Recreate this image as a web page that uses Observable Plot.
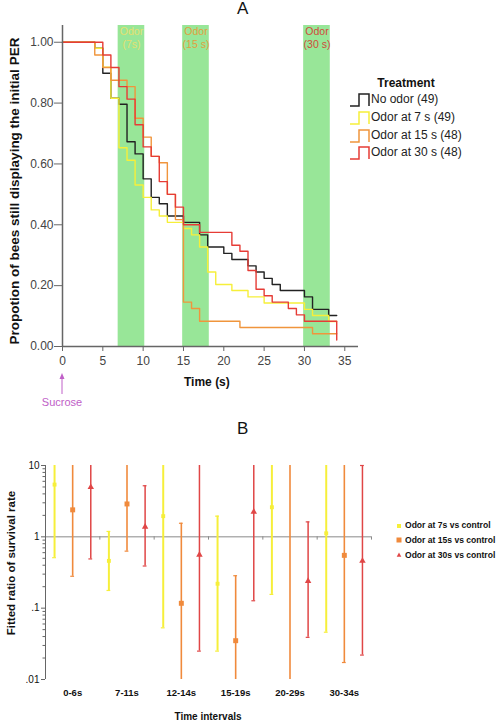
<!DOCTYPE html>
<html><head><meta charset="utf-8">
<script src="https://cdn.jsdelivr.net/npm/d3@7"></script>
<script src="https://cdn.jsdelivr.net/npm/@observablehq/plot@0.6"></script>
<style>
body{margin:0;background:#fff;font-family:"Liberation Sans",Arial,sans-serif;}
#wrap{position:relative;width:498px;height:722px;overflow:hidden;background:#fff;}
.abs{position:absolute;white-space:nowrap;line-height:1;}
#chartA{position:absolute;left:0;top:0;}
#chartB{position:absolute;left:0;top:410px;}
</style></head><body><div id="wrap"><div id="chartA"></div><div id="chartB"></div></div>
<script>
// ---------- Panel A data ----------
const treatments = ["No odor (49)", "Odor at 7 s (49)", "Odor at 15 s (48)", "Odor at 30 s (48)"];
const timesNoOdor = [0,4,5,6,7,8,9,10,11,12,13,15,17,18,20,21,23,24,25,26,27,30,31,33,34];
const survNoOdor  = [1,0.98,0.898,0.816,0.796,0.673,0.633,0.551,0.49,0.469,0.429,0.408,0.367,0.327,0.306,0.286,0.265,0.245,0.224,0.204,0.184,0.163,0.122,0.102,0.102];
const timesOdor7  = [0,4,5,6,7,8,9,10,11,12,13,15,16,17,18,19,21,23,25,30,31,33,34];
const survOdor7   = [1,0.98,0.918,0.816,0.653,0.612,0.531,0.49,0.449,0.429,0.408,0.388,0.367,0.327,0.245,0.204,0.184,0.163,0.143,0.122,0.102,0.082,0.082];
const timesOdor15 = [0,4,5,6,8,9,10,11,12,13,14,15,16,17,22,31,34];
const survOdor15  = [1,0.958,0.917,0.875,0.854,0.75,0.688,0.625,0.604,0.5,0.417,0.146,0.125,0.083,0.0625,0.042,0.042];
const timesOdor30 = [0,5,6,7,8,9,10,11,12,13,14,15,17,21,22,23,24,25,26,28,29,30,34,34];
const survOdor30  = [1,0.958,0.917,0.854,0.813,0.729,0.656,0.625,0.542,0.5,0.458,0.4,0.375,0.333,0.313,0.25,0.188,0.167,0.146,0.125,0.104,0.083,0.083,0.021];
const odorStart = [6.9, 14.9, 29.9];
const odorEnd   = [10.2, 18.2, 33.2];
const odorLabels = ["Odor\n(7s)", "Odor\n(15 s)", "Odor\n(30 s)"];
const xTicksA = [0,5,10,15,20,25,30,35];
const yTicksA = [0,0.2,0.4,0.6,0.8,1.0];

// ---------- Panel B data ----------
const intervals = ["0-6s","7-11s","12-14s","15-19s","20-29s","30-34s"];
const seriesB = ["Odor at 7s vs control","Odor at 15s vs control","Odor at 30s vs control"];
const est7  = [5.4, 0.46, 1.95, 0.22, 2.6, 1.12];
const lo7   = [0.51, 0.177, 0.053, 0.025, 0.156, 0.046];
const hi7   = [30, 1.19, 30, 1.95, 30, 30];
const est15 = [2.39, 2.89, 0.117, 0.035, null, 0.55];
const lo15  = [0.28, 0.63, 0.005, 0.005, 0.005, 0.0173];
const hi15  = [30, 30, 1.55, 0.285, 30, 30];
const est30 = [4.96, 1.38, 0.56, 2.24, 0.24, 0.46];
const lo30  = [0.49, 0.39, 0.025, 0.127, 0.039, 0.022];
const hi30  = [30, 5.2, 30, 30, 1.62, 10];
const yTicksB = [0.01, 0.1, 1, 10];
const yTickLabelsB = [".01", ".1", "1", "10"];
const minorTicksB = [0.02,0.03,0.04,0.05,0.06,0.07,0.08,0.09,0.2,0.3,0.4,0.5,0.6,0.7,0.8,0.9,2,3,4,5,6,7,8,9];

// ---------- styles ----------
const lineColors = ["#222222", "#f6ef3a", "#f0953c", "#e63c36"];
const odorLabelColors = ["#e4e070", "#e0a040", "#d04a3a"];
const seriesColorsB = ["#f6ef3a", "#f08a3c", "#e04646"];
const font = "'Liberation Sans', Arial, sans-serif";
const narrowFont = "'Liberation Sans Narrow', 'Liberation Sans', Arial, sans-serif";

// ---------- Panel A ----------
const timesA = [timesNoOdor, timesOdor7, timesOdor15, timesOdor30];
const survA = [survNoOdor, survOdor7, survOdor15, survOdor30];
const curves = treatments.flatMap((name, i) => timesA[i].map((t, j) => ({t, s: survA[i][j], name})));
const bands = odorStart.map((s, i) => ({s, e: odorEnd[i], label: odorLabels[i], i}));

const chartA = Plot.plot({
  width: 498, height: 410,
  marginLeft: 62, marginRight: 140, marginTop: 25, marginBottom: 64,
  style: {fontFamily: font, fontSize: "12px", color: "#444", background: "transparent"},
  x: {domain: [0, 36.7]},
  y: {domain: [0, 1.055]},
  color: {domain: treatments, range: lineColors},
  marks: [
    Plot.rect(bands, {x1: "s", x2: "e", fill: "#98e698"}),
    Plot.text(bands, {x: d => (d.s + d.e) / 2, frameAnchor: "top", text: "label", lineAnchor: "top", dy: 1, lineHeight: 1.18, fontSize: 10.5, fill: d => odorLabelColors[d.i]}),
    Plot.line(curves, {x: "t", y: "s", z: "name", stroke: "name", curve: "step-after", strokeWidth: 1.4}),
    Plot.ruleX([0], {stroke: "#666", strokeWidth: 1.5}),
    Plot.ruleY([0], {stroke: "#666", strokeWidth: 1.5}),
    Plot.axisX({ticks: xTicksA, tickSize: 5, tickPadding: 5, stroke: "#666", fill: "#444", label: null, fontSize: 12}),
    Plot.axisY({ticks: yTicksA, tickSize: 8, tickPadding: 1, tickFormat: d3.format(".2f"), stroke: "#666", fill: "#444", label: null, fontSize: 12})
  ]
});
document.getElementById("chartA").appendChild(chartA);

// Sucrose annotation at time 0
const sx = chartA.scale("x").apply(0);
const svgA = d3.select(chartA);
svgA.append("line").attr("x1", sx).attr("x2", sx).attr("y1", 394).attr("y2", 378).attr("stroke", "#c060c8").attr("stroke-width", 1);
svgA.append("path").attr("d", `M${sx},373L${sx-2.5},379L${sx+2.5},379Z`).attr("fill", "#c060c8");
svgA.append("text").attr("x", sx).attr("y", 402).attr("dy", "0.35em").attr("text-anchor", "middle")
  .attr("font-size", 11).attr("fill", "#c060c8").attr("font-family", font).text("Sucrose");

// ---------- Panel B ----------
const estB = [est7, est15, est30], loB = [lo7, lo15, lo30], hiB = [hi7, hi15, hi30];
const rowsB = seriesB.flatMap((series, si) => intervals.map((iv, gi) => ({
  series, si, gi, pos: gi + (si - 1) / 3, est: estB[si][gi], lo: loB[si][gi], hi: hiB[si][gi]
})));
const boundariesB = [0.5, 1.5, 2.5, 3.5, 4.5, 5.5];
const inRange = v => v >= 0.01 && v <= 10;
const symbolsB = ["square", "square", "triangle"];
const radiiB = [2.2, 2.8, 2.4];
const widthsB = [2, 1.6, 1.5];

const marksB = [
  Plot.ruleY([1], {stroke: "#8a8a8a", strokeWidth: 1}),
  Plot.ruleX(boundariesB, {x: d => d, y1: 1, y2: 0.9, stroke: "#8a8a8a"}),
  Plot.ruleX([-0.5], {stroke: "#666", strokeWidth: 1}),
  Plot.axisY({ticks: minorTicksB, tickFormat: () => "", tickSize: 2.5, stroke: "#666", label: null}),
  Plot.axisY({ticks: yTicksB, tickFormat: d => yTickLabelsB[yTicksB.indexOf(d)], tickSize: 4, tickPadding: 2, stroke: "#666", fill: "#111", fontSize: 10, label: null}),
  Plot.axisX({ticks: [0,1,2,3,4,5], tickFormat: d => intervals[d], tickSize: 0, tickPadding: 10, fill: "#111", fontSize: 9.5, fontWeight: "bold", fontFamily: narrowFont, label: null})
];
seriesB.forEach((s, si) => {
  const rows = rowsB.filter(d => d.si === si);
  marksB.push(Plot.ruleX(rows, {x: "pos", y1: "lo", y2: "hi", stroke: seriesColorsB[si], strokeWidth: widthsB[si], clip: true}));
  marksB.push(Plot.ruleY(rows.filter(d => inRange(d.hi)), {y: "hi", x1: d => d.pos - 0.035, x2: d => d.pos + 0.035, stroke: seriesColorsB[si], strokeWidth: 1.2}));
  marksB.push(Plot.ruleY(rows.filter(d => inRange(d.lo)), {y: "lo", x1: d => d.pos - 0.035, x2: d => d.pos + 0.035, stroke: seriesColorsB[si], strokeWidth: 1.2}));
  marksB.push(Plot.dot(rows.filter(d => d.est != null), {x: "pos", y: "est", symbol: symbolsB[si], r: radiiB[si], fill: seriesColorsB[si], clip: true}));
});

const chartB = Plot.plot({
  width: 498, height: 312,
  marginLeft: 45, marginRight: 127, marginTop: 55, marginBottom: 43,
  style: {fontFamily: font, fontSize: "10px", color: "#111", background: "transparent"},
  x: {domain: [-0.5, 5.5]},
  y: {type: "log", domain: [0.01, 10]},
  marks: marksB
});
document.getElementById("chartB").appendChild(chartB);

// ---------- titles, labels, legends ----------
const wrap = document.getElementById("wrap");
function addText(txt, css) {
  const d = document.createElement("div");
  d.className = "abs";
  d.textContent = txt;
  Object.assign(d.style, css);
  wrap.appendChild(d);
  return d;
}
addText("A", {left: "237px", top: "0px", fontSize: "17px", color: "#111"});
addText("B", {left: "237px", top: "420px", fontSize: "17px", color: "#111"});
addText("Time (s)", {left: "184px", top: "376px", fontSize: "12px", fontWeight: "bold", color: "#111"});
addText("Propotion of bees still displaying the initial PER", {left: "15px", top: "191px", fontSize: "13.5px", fontWeight: "bold", color: "#111", transform: "translate(-50%,-50%) rotate(-90deg)"});
addText("Fitted ratio of survival rate", {left: "12px", top: "563px", fontSize: "11.5px", fontWeight: "bold", color: "#111", transform: "translate(-50%,-50%) rotate(-90deg)"});
addText("Time intervals", {left: "208px", top: "717px", fontSize: "10px", fontWeight: "bold", fontFamily: narrowFont, color: "#111", transform: "translate(-50%,-50%)"});

// Legend A
addText("Treatment", {left: "406px", top: "83px", fontSize: "12px", fontWeight: "bold", color: "#111", transform: "translate(-50%,-50%)"});
const legendRowsY = [100, 117.7, 135.5, 153.2];
treatments.forEach((t, i) => {
  const y = legendRowsY[i];
  const svgNS = "http://www.w3.org/2000/svg";
  const icon = document.createElementNS(svgNS, "svg");
  icon.setAttribute("width", 22); icon.setAttribute("height", 16);
  icon.style.position = "absolute"; icon.style.left = "349px"; icon.style.top = (y - 8) + "px";
  const p = document.createElementNS(svgNS, "path");
  p.setAttribute("d", "M1,14H10V2H20V14");
  p.setAttribute("fill", "none"); p.setAttribute("stroke", lineColors[i]); p.setAttribute("stroke-width", "1.5");
  icon.appendChild(p); wrap.appendChild(icon);
  addText(t, {left: "371px", top: (y - 7) + "px", fontSize: "12px", color: "#222"});
});

// Legend B
const legendBY = [525.5, 540.3, 555];
seriesB.forEach((s, i) => {
  const y = legendBY[i];
  const svgNS = "http://www.w3.org/2000/svg";
  const icon = document.createElementNS(svgNS, "svg");
  icon.setAttribute("width", 10); icon.setAttribute("height", 10);
  icon.style.position = "absolute"; icon.style.left = "394px"; icon.style.top = (y - 5) + "px";
  let shape;
  if (i < 2) {
    shape = document.createElementNS(svgNS, "rect");
    const sz = i === 0 ? 4 : 5;
    shape.setAttribute("x", 5 - sz / 2); shape.setAttribute("y", 5 - sz / 2);
    shape.setAttribute("width", sz); shape.setAttribute("height", sz);
  } else {
    shape = document.createElementNS(svgNS, "path");
    shape.setAttribute("d", "M5,2.5L7.3,6.8L2.7,6.8Z");
  }
  shape.setAttribute("fill", seriesColorsB[i]);
  icon.appendChild(shape); wrap.appendChild(icon);
  addText(s, {left: "405px", top: (y - 5.5) + "px", fontSize: "9.5px", fontWeight: "bold", fontFamily: narrowFont, color: "#111", transform: "scaleX(0.9)", transformOrigin: "0 50%"});
});
</script></body></html>
